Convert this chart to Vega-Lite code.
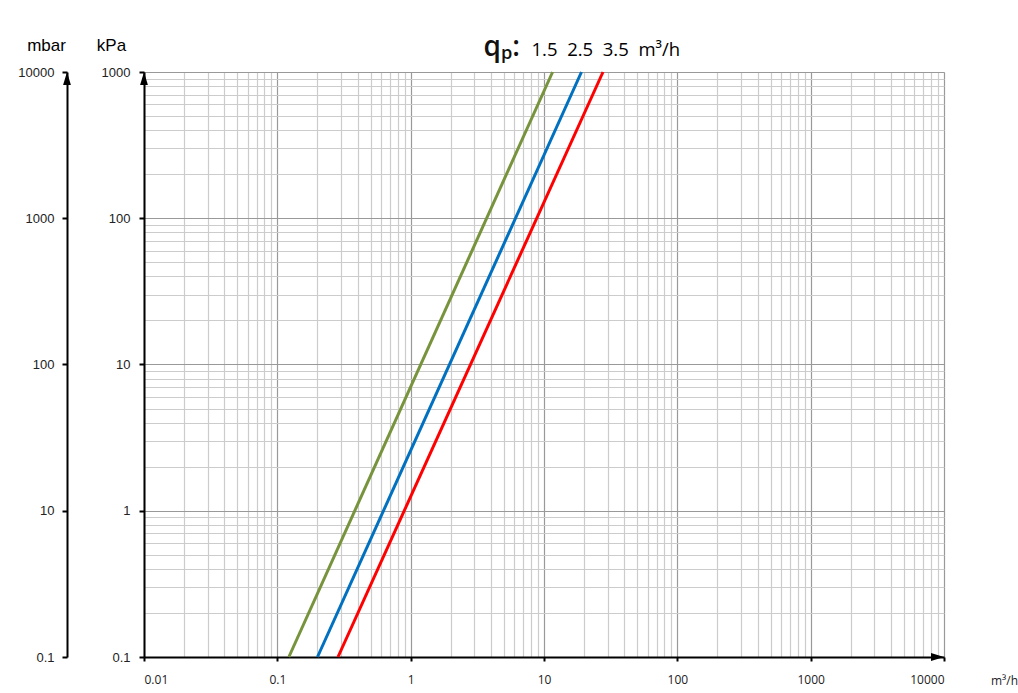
{
  "$schema": "https://vega.github.io/schema/vega-lite/v6.json",
  "width": 800,
  "height": 585,
  "autosize": {"type": "none"},
  "padding": {"left": 144, "top": 72, "right": 74, "bottom": 36},
  "background": "white",
  "datasets": {
    "lines": [
      {"series": "1.5", "Q": 0.122, "P": 0.1},
      {"series": "1.5", "Q": 11.6, "P": 1000},
      {"series": "2.5", "Q": 0.2, "P": 0.1},
      {"series": "2.5", "Q": 19.1, "P": 1000},
      {"series": "3.5", "Q": 0.285, "P": 0.1},
      {"series": "3.5", "Q": 27.7, "P": 1000}
    ],
    "upArrows": [
      {"axis": "kPa", "Q": 0.01, "P": 1000}
    ],
    "rightArrows": [
      {"axis": "m3h", "Q": 10000, "P": 0.1}
    ]
  },
  "resolve": {"axis": {"x": "independent", "y": "independent"}},
  "layer": [
    {
      "data": {"name": "lines"},
      "mark": {"type": "point", "opacity": 0},
      "encoding": {
        "x": {
          "field": "Q", "type": "quantitative",
          "scale": {"type": "log", "domain": [0.01, 10000], "nice": false},
          "axis": {
            "orient": "top", "grid": true, "gridColor": "#cccccc", "gridWidth": 1.2,
            "labels": false, "ticks": false, "domain": false,
            "title": "1.5\u00a0 2.5\u00a0 3.5\u00a0 m³/h",
            "titleFont": "Open Sans", "titleFontSize": 18.5, "titleFontWeight": "normal", "titleColor": "#000000",
            "titleX": 387, "titleY": -17, "titleAlign": "left", "titleBaseline": "alphabetic",
            "values": [0.02,0.03,0.04,0.05,0.06,0.07,0.08,0.09,0.2,0.3,0.4,0.5,0.6,0.7,0.8,0.9,2,3,4,5,6,7,8,9,20,30,40,50,60,70,80,90,200,300,400,500,600,700,800,900,2000,3000,4000,5000,6000,7000,8000,9000]
          }
        },
        "y": {
          "field": "P", "type": "quantitative",
          "scale": {"type": "log", "domain": [0.1, 1000], "nice": false},
          "axis": {
            "orient": "left", "grid": true, "gridColor": "#cccccc", "gridWidth": 1.2,
            "labels": false, "ticks": false, "domain": false,
            "title": "qₚ:",
            "titleFont": "Open Sans", "titleFontSize": 28, "titleFontWeight": 600, "titleColor": "#111111",
            "titleAngle": 0, "titleX": 339, "titleY": -17, "titleAlign": "left", "titleBaseline": "alphabetic",
            "values": [0.2,0.3,0.4,0.5,0.6,0.7,0.8,0.9,2,3,4,5,6,7,8,9,20,30,40,50,60,70,80,90,200,300,400,500,600,700,800,900]
          }
        }
      }
    },
    {
      "data": {"name": "lines"},
      "mark": {"type": "line", "strokeWidth": 3},
      "encoding": {
        "x": {
          "field": "Q", "type": "quantitative",
          "axis": {
            "orient": "bottom", "grid": true, "gridColor": "#999999", "gridWidth": 1.2,
            "values": [0.01, 0.1, 1, 10, 100, 1000, 10000],
            "labelExpr": "datum.value < 1 ? format(datum.value, '.2~f') : format(datum.value, 'd')",
            "labelFont": "Open Sans", "labelFontSize": 12, "labelColor": "#222222", "labelPadding": 13,
            "domain": true, "domainColor": "#000000", "domainWidth": 2,
            "ticks": true, "tickColor": "#000000", "tickWidth": 2, "tickSize": 4,
            "title": "m³/h", "titleFont": "Open Sans", "titleFontSize": 12, "titleFontWeight": "normal",
            "titleColor": "#222222", "titleX": 860, "titleY": 23, "titleAlign": "center", "titleBaseline": "middle"
          }
        },
        "y": {
          "field": "P", "type": "quantitative",
          "axis": {
            "orient": "left", "grid": true, "gridColor": "#999999", "gridWidth": 1.2,
            "values": [0.1, 1, 10, 100, 1000],
            "labelExpr": "datum.value < 1 ? format(datum.value, '.1~f') : format(datum.value, 'd')",
            "labelFont": "Liberation Sans", "labelFontSize": 13, "labelColor": "#222222", "labelPadding": 9,
            "domain": true, "domainColor": "#000000", "domainWidth": 2,
            "ticks": true, "tickColor": "#000000", "tickWidth": 2, "tickSize": 5,
            "title": "kPa", "titleFont": "Liberation Sans", "titleFontSize": 17, "titleFontWeight": "normal",
            "titleColor": "#000000", "titleAngle": 0, "titleX": -33, "titleY": -27,
            "titleAlign": "center", "titleBaseline": "middle"
          }
        },
        "color": {
          "field": "series", "type": "nominal",
          "scale": {"domain": ["1.5", "2.5", "3.5"], "range": ["#77933C", "#0070C0", "#FF0000"]},
          "legend": null
        },
        "detail": {"field": "series"}
      }
    },
    {
      "data": {"name": "lines"},
      "mark": {"type": "point", "opacity": 0},
      "encoding": {
        "x": {"field": "Q", "type": "quantitative", "axis": null},
        "y": {
          "field": "P", "type": "quantitative",
          "axis": {
            "orient": "left", "offset": 77, "grid": false,
            "values": [0.1, 1, 10, 100, 1000],
            "labelExpr": "datum.value < 1 ? '0.1' : format(datum.value * 10, 'd')",
            "labelFont": "Liberation Sans", "labelFontSize": 13, "labelColor": "#222222", "labelPadding": 8,
            "domain": true, "domainColor": "#000000", "domainWidth": 2,
            "ticks": true, "tickColor": "#000000", "tickWidth": 2, "tickSize": 5,
            "title": "mbar", "titleFont": "Liberation Sans", "titleFontSize": 17, "titleFontWeight": "normal",
            "titleColor": "#000000", "titleAngle": 0, "titleX": -21, "titleY": -27,
            "titleAlign": "center", "titleBaseline": "middle"
          }
        }
      }
    },
    {
      "data": {"name": "upArrows"},
      "mark": {"type": "point", "shape": "M0,0L-0.6,2L0.6,2Z", "size": 169, "filled": true, "color": "#000000", "opacity": 1},
      "encoding": {
        "x": {"field": "Q", "type": "quantitative", "axis": null},
        "y": {"field": "P", "type": "quantitative", "axis": null}
      }
    },
    {
      "data": {"name": "upArrows"},
      "mark": {"type": "point", "shape": "M0,0L-0.6,2L0.6,2Z", "size": 169, "filled": true, "color": "#000000", "opacity": 1, "xOffset": -77},
      "encoding": {
        "x": {"field": "Q", "type": "quantitative", "axis": null},
        "y": {"field": "P", "type": "quantitative", "axis": null}
      }
    },
    {
      "data": {"name": "rightArrows"},
      "mark": {"type": "point", "shape": "M0,0L-2,-0.6L-2,0.6Z", "size": 169, "filled": true, "color": "#000000", "opacity": 1},
      "encoding": {
        "x": {"field": "Q", "type": "quantitative", "axis": null},
        "y": {"field": "P", "type": "quantitative", "axis": null}
      }
    }
  ]
}
